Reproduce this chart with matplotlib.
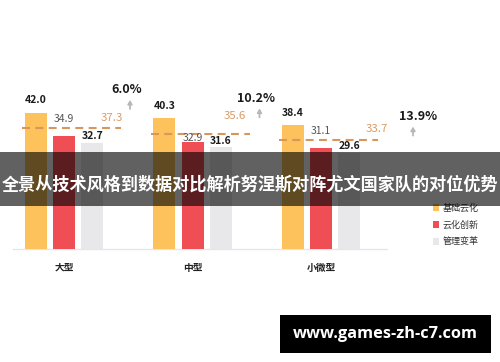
import matplotlib
matplotlib.use('Agg')
import matplotlib.pyplot as plt
from matplotlib.patches import Rectangle, Patch

plt.rcParams['font.family'] = ['Noto Sans CJK SC', 'DejaVu Sans']

# 数据
categories = ['大型', '中型', '小微型']
series_names = ['基础云化', '云化创新', '管理变革']
base_cloud = [42.0, 40.3, 38.4]
cloud_innov = [34.9, 32.9, 31.1]
mgmt_change = [32.7, 31.6, 29.6]
averages = [37.3, 35.6, 33.7]
growth = ['6.0%', '10.2%', '13.9%']
title = '全景从技术风格到数据对比解析努涅斯对阵尤文国家队的对位优势'
watermark = 'www.games-zh-c7.com'

# 版式 (像素)
W, H = 500, 362
X0, XS = 64, 128.5      # 第一组中心, 组间距
Y0, YS = 249, 3.24      # 基线, 每单位像素
colors = ['#FDC25B', '#F04E55', '#E8E8EB']
bar_w = 22
bar_off = [-28.3, 0, 28.3]
label_dy = [[13, 12, 12], [17, 4, 17], [7, 6, 7]]
avg_lbl_dx = [48, 42, 56]
avg_lbl_dy = [10, 18, 11]
pct_dx = [63, 64, 97]
pct_dy = [23, 20, 8]
arrow_dx = [3, 3, -5]

def dx(p):
    return p / XS

def dy(p):
    return p / YS

fig = plt.figure(figsize=(W / 100, H / 100), dpi=100)
ax = fig.add_axes([0, 0, 1, 1])
ax.set_xlim(-X0 / XS, (W - X0) / XS)
ax.set_ylim((Y0 - H) / YS, Y0 / YS)
ax.axis('off')

series = [base_cloud, cloud_innov, mgmt_change]
xs = list(range(len(categories)))

ax.plot([dx(13 - X0), dx(387 - X0)], [0, 0], color='#e6e6e6', lw=1, zorder=1)

for k, vals in enumerate(series):
    pos = [x + dx(bar_off[k]) for x in xs]
    ax.bar(pos, vals, width=dx(bar_w), color=colors[k], zorder=2)
    for i, v in enumerate(vals):
        if k == 1:
            kw = dict(color='#555555', fontweight='normal')
        else:
            kw = dict(color='#1a1a1a', fontweight='bold')
        ax.annotate(f'{v:.1f}', (pos[i], v), xytext=(0, label_dy[k][i] * 0.72),
                    textcoords='offset points', ha='center', va='center',
                    fontsize=7.5, zorder=4, **kw)

for i, c in enumerate(xs):
    a = averages[i]
    ax.plot([c - dx(42), c + dx(57)], [a, a], color='#D8955C', lw=1.5,
            linestyle=(0, (3.8, 2.6)), zorder=3)
    ax.text(c + dx(avg_lbl_dx[i]), a + dy(avg_lbl_dy[i]), f'{a:.1f}',
            color='#DB9A63', fontsize=8.2, ha='center', va='center', zorder=4)
    top = max(s[i] for s in series)
    px_ = c + dx(pct_dx[i])
    py_ = top + dy(pct_dy[i])
    ax.text(px_, py_, growth[i], fontsize=9, fontweight='bold', color='#1a1a1a',
            ha='center', va='center', zorder=4)
    ax_ = px_ + dx(arrow_dx[i])
    ax.annotate('', xy=(ax_, py_ - dy(10)), xytext=(ax_, py_ - dy(19)),
                arrowprops=dict(arrowstyle='-|>,head_width=0.13,head_length=0.22',
                                color='#b8b8b8', lw=1.3, shrinkA=0, shrinkB=0),
                zorder=4)
    ax.annotate(categories[i], (c, 0), xytext=(0, -19 * 0.72), textcoords='offset points',
                ha='center', va='center', fontsize=7, color='#222222', fontweight='bold')

# 图例
handles = [Patch(facecolor=col, edgecolor='none') for col in colors]
fig.legend(handles, series_names, loc='center left',
           bbox_to_anchor=(428 / W, 1 - 225 / H), frameon=False,
           prop={'size': 6.5, 'weight': 'medium'},
           handlelength=0.75, handleheight=0.75, handletextpad=0.4,
           labelspacing=0.85, borderpad=0, labelcolor='#333333')

# 标题条
fig.patches.append(Rectangle((0, 1 - 206 / H), 1, (206 - 152) / H, transform=fig.transFigure,
                             facecolor='black', alpha=0.62, edgecolor='none', zorder=6))
fig.text(0.5, 1 - 185 / H, title, color='white', fontsize=12.3, fontweight='bold',
         ha='center', va='center', zorder=7)

# 水印
fig.patches.append(Rectangle((280 / W, 1 - 353 / H), 211 / W, 38 / H, transform=fig.transFigure,
                             facecolor='black', edgecolor='none', zorder=6))
fig.text(385 / W, 1 - 334 / H, watermark, color='white', fontsize=11.8, fontweight='bold',
         ha='center', va='center', zorder=7, family=['Open Sans', 'DejaVu Sans'])

fig.savefig('out.png', dpi=100)
